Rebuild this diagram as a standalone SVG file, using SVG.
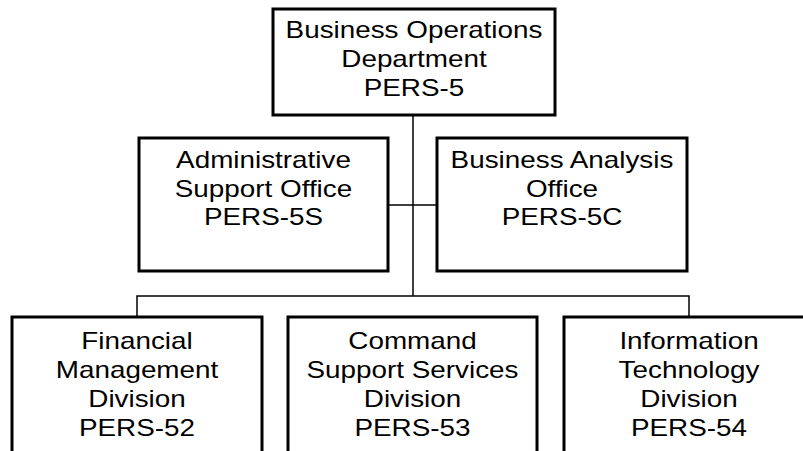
<svg xmlns="http://www.w3.org/2000/svg" width="803" height="451" viewBox="0 0 803 451">
<style>
.box{fill:#fff;stroke:#000;stroke-width:3}
.ln{fill:none;stroke:#000;stroke-width:1.5}
text{font-family:"Liberation Sans",Arial,sans-serif;font-size:24px;fill:#000;text-anchor:middle}
</style>
<rect width="803" height="451" fill="#fff"/>
<g id="connectors">
<path class="ln" d="M413,115 V296"/>
<path class="ln" d="M388,205 H437"/>
<path class="ln" d="M137,317 V296 H689 V317"/>
</g>
<g id="n-pers5">
<rect class="box" x="273" y="9" width="282" height="106"/>
<g transform="translate(414 0) scale(1.16 1)"><text x="0" y="38">Business Operations</text><text x="0" y="67">Department</text><text x="0" y="96">PERS-5</text></g>
</g>
<g id="n-pers5s">
<rect class="box" x="139" y="138" width="249" height="133"/>
<g transform="translate(263.5 0) scale(1.16 1)"><text x="0" y="168">Administrative</text><text x="0" y="197">Support Office</text><text x="0" y="225">PERS-5S</text></g>
</g>
<g id="n-pers5c">
<rect class="box" x="437" y="138" width="250" height="133"/>
<g transform="translate(562 0) scale(1.16 1)"><text x="0" y="168">Business Analysis</text><text x="0" y="197">Office</text><text x="0" y="225">PERS-5C</text></g>
</g>
<g id="n-pers52">
<rect class="box" x="12" y="317" width="250" height="150"/>
<g transform="translate(137 0) scale(1.16 1)"><text x="0" y="349">Financial</text><text x="0" y="378">Management</text><text x="0" y="407">Division</text><text x="0" y="436">PERS-52</text></g>
</g>
<g id="n-pers53">
<rect class="box" x="288" y="317" width="249" height="150"/>
<g transform="translate(412.5 0) scale(1.16 1)"><text x="0" y="349">Command</text><text x="0" y="378">Support Services</text><text x="0" y="407">Division</text><text x="0" y="436">PERS-53</text></g>
</g>
<g id="n-pers54">
<rect class="box" x="564" y="317" width="250" height="150"/>
<g transform="translate(689 0) scale(1.16 1)"><text x="0" y="349">Information</text><text x="0" y="378">Technology</text><text x="0" y="407">Division</text><text x="0" y="436">PERS-54</text></g>
</g>
</svg>
